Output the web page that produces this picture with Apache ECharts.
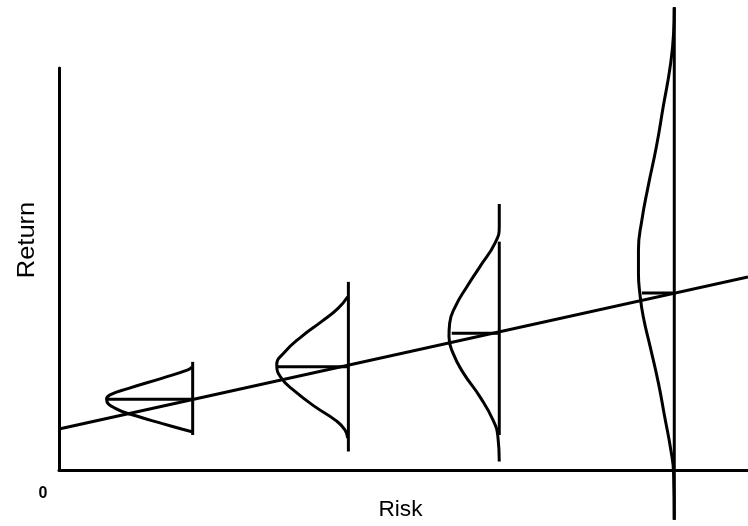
<!DOCTYPE html>
<html>
<head>
<meta charset="utf-8">
<script src="https://cdn.jsdelivr.net/npm/echarts@6/dist/echarts.min.js"></script>
<style>
  html, body { margin: 0; padding: 0; background: #ffffff; }
  #chart { width: 748px; height: 526px; }
</style>
</head>
<body>
<div id="chart"></div>
<script>
// Risk (x) / Return (y) in arbitrary units 0..100
const regressionLine = [[0, 10.2], [100, 48.0]];

// Bell-shaped return distributions
const curve1 = [[19.3, 25.6], [18.7, 24.9], [14.9, 22.8], [10.1, 20.3], [7.4, 18.7], [6.9, 17.6],
  [8.1, 15.4], [11.5, 13.3], [14.9, 11.6], [17.8, 10.2], [19.3, 9.5]];
const curve2 = [[41.9, 43.1], [40.5, 40.2], [38.1, 36.9], [35.2, 33.2], [32.8, 29.4], [31.6, 26.1],
  [32.3, 22.8], [34.3, 19.5], [37.2, 15.7], [40.1, 12.4], [41.5, 10.0], [41.9, 7.9]];
const curve3 = [[63.9, 66.2], [63.9, 60.5], [63.3, 56.5], [61.1, 50.6], [59.2, 45.6], [57.5, 40.6],
  [56.7, 36.5], [56.6, 33.2], [57.2, 29.0], [58.7, 24.1], [61.1, 18.2], [63.0, 12.4], [63.7, 8.3], [63.9, 2.1]];
const curve4 = [[89.3, 114.9], [89.2, 108.6], [88.7, 100.3], [87.7, 90.4], [86.7, 80.4], [85.5, 70.5],
  [84.6, 62.2], [84.1, 54.7], [84.1, 48.9], [84.3, 44.0], [84.8, 38.1], [85.8, 30.7], [87.0, 21.6],
  [87.9, 13.3], [88.8, 5.0], [89.2, -0.8], [89.3, -12.4]];

// Vertical stems and mean (expected return) lines
const stemX = [19.4, 42.0, 63.9, 89.3];
const stemTop = [26.9, 46.8, 56.8, 115.2];
const stemBottom = [8.7, 4.6, 8.7, -12.4];
const meanY = [17.6, 25.7, 34.0, 44.0];
const meanLeft = [6.9, 31.7, 57.0, 84.6];

const axisTitles = { x: 'Risk', y: 'Return', origin: '0' };

const black = '#000000';
function lineSeries(data, smooth) {
  return {
    type: 'line', data: data, smooth: smooth || false, symbol: 'none', clip: false,
    lineStyle: { color: black, width: 3 }, silent: true, animation: false
  };
}

const series = [lineSeries(regressionLine)];
[curve1, curve2, curve3, curve4].forEach(c => series.push(lineSeries(c, 0.5)));
stemX.forEach((x, i) => {
  series.push(lineSeries([[x, stemTop[i]], [x, stemBottom[i]]]));
  series.push(lineSeries([[meanLeft[i], meanY[i]], [x, meanY[i]]]));
});

const chart = echarts.init(document.getElementById('chart'), null, { renderer: 'canvas' });
chart.setOption({
  backgroundColor: '#ffffff',
  animation: false,
  grid: { left: 59, right: 0, top: 68, bottom: 56, containLabel: false },
  xAxis: {
    type: 'value', min: 0, max: 100,
    axisLine: { show: true, onZero: false, lineStyle: { color: black, width: 3 } },
    axisTick: { show: false }, axisLabel: { show: false }, splitLine: { show: false }
  },
  yAxis: {
    type: 'value', min: 0, max: 100,
    axisLine: { show: true, onZero: false, lineStyle: { color: black, width: 3 } },
    axisTick: { show: false }, axisLabel: { show: false }, splitLine: { show: false }
  },
  graphic: [
    { type: 'text', x: 400.5, y: 510, scaleX: 1.03, style: { text: axisTitles.x, fill: black, font: '22px "Liberation Sans", Arial, sans-serif', align: 'center', verticalAlign: 'middle' } },
    { type: 'text', x: 27, y: 240, rotation: Math.PI / 2, scaleX: 1.06, style: { text: axisTitles.y, fill: black, font: '24px "Liberation Sans", Arial, sans-serif', align: 'center', verticalAlign: 'middle' } },
    { type: 'text', x: 43, y: 494, style: { text: axisTitles.origin, fill: black, font: 'bold 16px "Liberation Sans", Arial, sans-serif', align: 'center', verticalAlign: 'middle' } }
  ],
  series: series
});
</script>
</body>
</html>
